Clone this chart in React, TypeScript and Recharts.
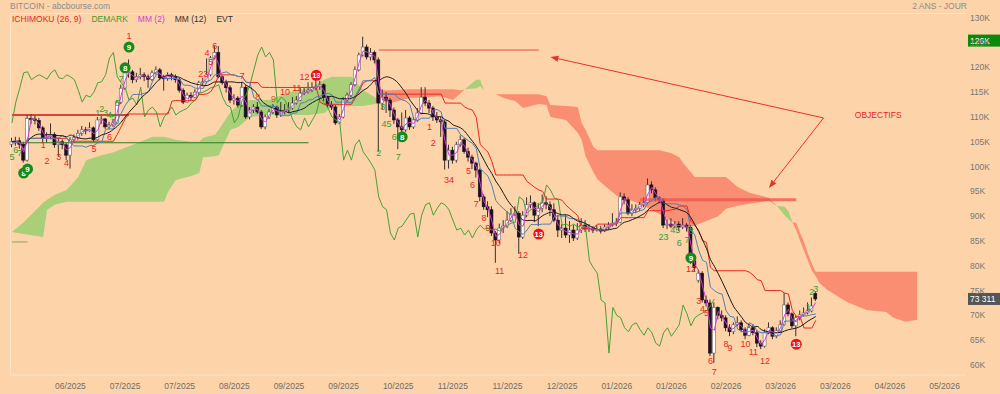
import React from "react";
import {
  ComposedChart,
  XAxis,
  YAxis,
  Bar,
  Line,
  Area,
  ReferenceLine,
  ReferenceDot,
} from "recharts";

// Bitcoin, business-day bars from early June 2025 to mid March 2026 (values in K)
const CLOSE = [
  105.0, 105.2, 104.5, 101.3, 109.7, 109.6, 109.3, 107.8, 105.8, 106.0,
  106.5, 104.4, 105.0, 104.4, 102.3, 105.4, 105.8, 106.7, 107.4, 107.2,
  107.8, 105.4, 109.4, 109.6, 108.0, 108.4, 108.8, 113.0, 115.8, 118.9,
  119.1, 117.5, 118.1, 118.5, 118.1, 117.6, 118.9, 119.5, 117.9, 117.7,
  118.5, 118.1, 117.5, 115.4, 113.0, 114.4, 114.0, 115.0, 116.9, 117.1,
  118.5, 121.9, 123.0, 118.1, 116.9, 115.9, 113.4, 113.8, 112.4, 116.0,
  110.0, 111.4, 112.0, 111.0, 108.0, 110.0, 111.0, 112.0, 110.4, 111.0,
  111.4, 111.8, 112.8, 113.4, 114.8, 115.0, 115.4, 115.9, 116.1, 116.5,
  114.0, 112.4, 112.0, 108.8, 110.0, 113.4, 114.4, 116.5, 119.5, 122.5,
  124.1, 122.1, 123.0, 121.5, 112.8, 114.0, 113.4, 111.4, 109.4, 108.0,
  107.4, 109.8, 108.0, 109.4, 110.8, 114.0, 112.8, 111.8, 110.0, 109.4,
  109.0, 101.3, 103.3, 101.3, 104.4, 105.4, 103.0, 101.9, 100.7, 99.3,
  93.9, 91.9, 91.3, 86.6, 85.2, 87.6, 88.0, 89.2, 90.4, 90.6,
  85.8, 90.2, 92.3, 92.7, 90.2, 91.6, 92.7, 92.3, 91.3, 89.2,
  87.2, 87.6, 86.2, 87.2, 85.6, 87.2, 88.2, 87.4, 87.6, 87.2,
  87.4, 87.0, 87.8, 88.2, 88.6, 88.8, 93.9, 93.3, 90.6, 91.3,
  91.6, 92.3, 92.7, 96.3, 95.3, 93.7, 93.3, 88.2, 88.4, 88.0,
  88.4, 87.8, 88.2, 87.8, 81.0, 79.6, 78.5, 73.1, 72.5, 62.4,
  71.6, 70.0, 69.5, 67.5, 66.7, 68.1, 68.5, 67.1, 66.0, 67.5,
  66.5, 64.4, 63.8, 66.5, 67.5, 65.8, 66.9, 68.1, 72.1, 70.3,
  67.9, 69.5, 70.1, 70.5, 70.9, 71.9, 73.311,
];

const HIGH = [
  105.8, 106.0, 105.9, 105.0, 110.4, 110.6, 110.3, 109.8, 108.2, 106.9,
  108.7, 106.9, 105.8, 105.5, 104.8, 105.9, 106.5, 107.4, 108.2, 108.0,
  108.9, 108.1, 110.0, 110.2, 109.8, 109.0, 109.4, 113.4, 116.5, 119.6,
  121.6, 119.5, 118.9, 119.9, 119.0, 118.6, 119.4, 120.2, 119.9, 118.5,
  119.0, 118.9, 118.6, 117.9, 115.8, 114.9, 115.0, 115.6, 117.3, 117.9,
  121.8, 122.3, 124.4, 124.3, 118.4, 117.5, 116.4, 114.6, 114.2, 116.9,
  116.4, 112.0, 112.6, 113.0, 111.4, 110.5, 111.6, 112.6, 112.3, 113.0,
  112.6, 113.0, 114.0, 114.2, 116.0, 116.0, 117.0, 117.0, 117.6, 117.3,
  116.8, 114.3, 113.2, 112.4, 110.6, 114.0, 114.9, 117.0, 120.2, 123.0,
  126.2, 124.6, 123.9, 123.4, 122.0, 115.6, 115.0, 113.8, 111.9, 109.8,
  110.9, 111.4, 110.2, 110.0, 111.8, 116.0, 116.0, 113.4, 112.2, 111.0,
  110.0, 109.4, 104.4, 104.0, 105.0, 106.3, 105.8, 103.8, 102.4, 101.0,
  99.6, 94.4, 93.0, 92.0, 87.0, 88.5, 89.2, 91.0, 91.6, 92.0,
  91.0, 91.0, 93.8, 94.2, 93.0, 92.6, 94.4, 94.0, 93.0, 92.6,
  90.2, 88.4, 90.2, 89.0, 88.2, 88.6, 89.6, 89.2, 88.4, 88.0,
  88.2, 88.0, 88.4, 88.8, 90.6, 89.6, 94.8, 94.6, 93.8, 92.4,
  92.4, 92.9, 93.8, 97.6, 97.0, 95.8, 94.0, 93.6, 89.4, 89.6,
  89.0, 89.0, 89.6, 88.6, 88.2, 81.6, 79.2, 78.9, 74.0, 73.2,
  72.6, 71.8, 71.0, 70.0, 68.2, 68.6, 69.8, 69.0, 67.6, 68.0,
  68.2, 67.0, 65.0, 67.2, 68.6, 67.8, 67.6, 69.0, 74.5, 72.6,
  70.6, 70.0, 71.0, 71.6, 72.6, 73.6, 74.8,
];

const LOW = [
  103.9, 104.2, 103.6, 100.8, 101.0, 108.6, 108.5, 107.2, 104.9, 104.8,
  105.5, 103.8, 102.0, 103.5, 101.3, 99.6, 104.8, 105.4, 106.2, 106.5,
  107.0, 105.0, 105.2, 108.6, 107.6, 107.5, 108.0, 108.5, 112.6, 115.5,
  117.9, 116.8, 117.0, 117.6, 117.2, 115.9, 117.2, 118.6, 117.4, 115.3,
  117.3, 117.4, 116.9, 114.9, 112.6, 112.9, 113.4, 113.8, 114.6, 116.4,
  116.8, 118.2, 121.6, 117.8, 116.5, 114.9, 112.8, 112.5, 111.9, 112.0,
  109.6, 109.5, 110.8, 110.6, 107.6, 107.5, 109.6, 110.6, 109.8, 110.0,
  110.5, 110.8, 111.5, 112.5, 113.2, 114.4, 114.7, 115.0, 115.4, 115.5,
  113.2, 111.9, 111.4, 108.4, 108.6, 109.7, 112.9, 114.0, 116.2, 119.2,
  122.2, 121.6, 121.4, 120.8, 103.0, 111.5, 110.8, 110.0, 108.6, 103.5,
  106.8, 107.0, 107.4, 107.6, 109.0, 110.5, 112.2, 110.8, 109.2, 108.8,
  106.0, 99.4, 99.6, 100.6, 100.8, 104.0, 102.6, 101.0, 99.5, 97.8,
  93.0, 91.3, 89.8, 86.0, 80.6, 84.5, 86.6, 87.6, 88.8, 90.0,
  82.4, 85.4, 89.8, 91.6, 88.8, 88.0, 90.8, 91.4, 90.0, 88.8,
  85.8, 85.6, 85.6, 84.6, 85.0, 85.2, 86.6, 86.8, 86.8, 86.6,
  86.9, 86.5, 86.8, 87.4, 87.9, 88.0, 88.6, 92.4, 90.2, 90.0,
  90.6, 91.0, 91.8, 92.4, 94.6, 93.0, 92.6, 87.6, 87.4, 87.6,
  87.6, 87.0, 87.4, 86.9, 80.4, 78.8, 76.6, 72.6, 71.8, 61.8,
  60.4, 69.2, 68.8, 66.8, 65.8, 66.2, 67.8, 66.6, 65.2, 65.8,
  66.0, 63.6, 63.2, 63.5, 66.2, 65.2, 65.4, 66.6, 67.9, 69.8,
  67.4, 65.8, 69.0, 69.8, 70.2, 70.6, 72.9,
];

// bars whose open is not the previous close (first bar and gaps)
const OPEN_GAPS: Record<number, number> = { 0: 104.5, 176: 77.1, 206: 74.4 };

// Ichimoku cloud (bar index, span A, span B)
const CLOUD_IDX = [
  0, 3, 8, 9, 11, 14, 17, 19, 23, 26, 31, 36, 39, 40, 42, 46, 48, 49, 52, 53,
  56, 58, 61, 66, 71, 76, 80, 82, 87, 90, 93, 94, 97, 102, 110, 113, 115, 116, 119, 120,
  121, 124, 126, 129, 131, 135, 137, 138, 142, 145, 146, 147, 149, 150, 152, 155, 161, 166, 169, 171,
  172, 175, 176, 181, 183, 186, 189, 194, 196, 198, 199, 200, 201, 202, 203, 204, 205, 206, 207, 209,
  214, 219, 224, 226, 229, 232,
];
const SPAN_A = [
  86.8, 88.8, 92.7, 93.3, 94.3, 95.3, 97.9, 101.3, 102.3, 102.9, 104.4, 106.0, 106.0, 105.8, 105.4, 105.0, 105.0, 105.8, 106.4, 107.4,
  111.0, 112.4, 113.4, 113.4, 115.0, 115.8, 117.5, 118.1, 118.1, 115.4, 114.0, 113.4, 112.8, 113.8, 114.2, 113.4, 114.8, 115.6, 117.5, 117.5,
  115.4, 114.6, 113.8, 113.2, 111.8, 112.6, 112.4, 110.0, 109.4, 106.8, 105.4, 102.1, 98.9, 97.5, 96.1, 94.1, 92.5, 90.4, 89.0, 88.2,
  88.0, 88.0, 88.4, 90.0, 91.5, 92.1, 92.5, 93.1, 92.1, 91.9, 91.0, 88.8, 87.2, 85.0, 83.0, 81.0, 79.0, 77.9, 76.5, 75.1,
  72.7, 71.1, 70.7, 69.5, 68.7, 69.1,
];
const SPAN_B = [
  86.8, 86.4, 85.8, 91.3, 92.3, 92.9, 92.9, 92.9, 92.9, 92.9, 92.9, 92.9, 92.9, 94.9, 97.3, 98.1, 98.7, 101.9, 102.1, 102.3,
  107.4, 108.0, 110.0, 110.4, 110.4, 110.4, 110.8, 112.0, 112.2, 112.2, 112.6, 115.4, 115.4, 115.6, 115.6, 115.6, 115.4, 115.6, 115.8, 116.2,
  115.4, 114.6, 114.6, 114.6, 114.6, 114.6, 114.2, 112.4, 112.2, 112.0, 108.8, 107.4, 104.0, 103.3, 103.3, 103.3, 103.3, 103.3, 102.7, 101.9,
  100.7, 97.9, 97.9, 97.9, 97.9, 95.9, 94.7, 93.7, 92.1, 90.2, 89.4, 88.8, 88.6, 86.6, 84.8, 82.4, 80.4, 78.8, 78.8, 78.8,
  78.8, 78.8, 78.8, 78.8, 78.8, 78.8,
];

const TICK_LABELS = [
  "06/2025", "07/2025", "07/2025", "08/2025", "09/2025", "09/2025", "10/2025", "11/2025", "11/2025",
  "12/2025", "01/2026", "01/2026", "02/2026", "03/2026", "03/2026", "04/2026", "05/2026",
];
const Y_TICKS = [60, 65, 70, 75, 80, 85, 90, 95, 100, 105, 110, 115, 120, 125, 130];

// DeMark counts: [bar index, level, text]
const DEMARK_GREEN: [number, number, string][] = [
  [0, 101.9, "5"], [1, 103.3, "6"], [2, 102.7, "7"],
  [22, 110.8, "1"], [23, 111.6, "2"], [24, 110.8, "3"], [25, 110.4, "4"], [26, 110.0, "5"],
  [27, 112.8, "6"], [28, 117.7, "7"],
  [94, 102.7, "2"], [95, 112.0, "3"], [96, 108.6, "45"], [98, 106.0, "6"], [99, 101.9, "7"],
  [167, 85.8, "23"], [170, 87.2, "45"], [171, 84.6, "6"], [173, 85.2, "7"], [174, 87.0, "8"],
  [204, 71.7, "1"], [205, 74.7, "2"], [206, 75.3, "3"],
];
const DEMARK_GREEN_DOTS: [number, number, string][] = [
  [3, 98.7, "8"], [4, 99.5, "9"], [29, 119.9, "8"], [30, 124.1, "9"], [100, 106.0, "8"], [174, 81.6, "9"],
];
const DEMARK_RED: [number, number, string][] = [
  [8, 104.4, "1"], [9, 101.1, "2"], [12, 101.9, "3"], [14, 100.7, "4"], [21, 103.5, "5"], [25, 106.0, "6"],
  [30, 126.3, "1"], [49, 118.7, "23"], [50, 122.9, "4"], [51, 121.1, "5"], [52, 124.3, "6"], [59, 118.3, "7"],
  [70, 115.0, "10"], [73, 115.8, "11"], [75, 118.0, "12"],
  [107, 108.0, "1"], [108, 104.8, "2"], [112, 97.3, "34"], [117, 99.1, "5"], [118, 96.3, "6"], [119, 92.5, "7"],
  [121, 89.6, "8"], [122, 87.6, "9"], [124, 84.6, "10"], [125, 79.0, "11"], [131, 82.2, "12"],
  [174, 79.4, "12"], [176, 72.9, "3"], [177, 71.3, "4"], [178, 70.5, "5"], [179, 60.8, "6"], [180, 58.6, "7"],
  [183, 64.2, "8"], [184, 63.4, "9"], [188, 64.2, "10"], [190, 62.6, "11"], [193, 60.8, "12"],
];
const DEMARK_ORANGE: [number, number, string][] = [[63, 114.0, "8"], [67, 113.6, "9"]];
const DEMARK_RED_DOTS: [number, number, string][] = [[78, 118.4, "13"], [135, 86.4, "13"], [201, 64.2, "13"]];

// drawn levels: [from bar, to bar, level]
const LEVELS_RED: [number, number, number][] = [[0, 30, 110.4], [94, 135, 123.5]];
const LEVELS_GREEN: [number, number, number][] = [[0, 76, 104.8]];
const LEVEL_TARGET: [number, number, number] = [161, 201, 93.3];
const LEVEL_OLD: [number, number, number] = [0, 4, 84.8];

// "OBJECTIFS" arrows: start and the two targets
const ARROW_FROM = { i: 208, v: 109.8 };
const ARROW_TO = [{ i: 138, v: 122.1 }, { i: 194, v: 95.7 }];
const NOTE = { i: 222, v: 110.4, text: "OBJECTIFS" };

const HIGH_TAG = { v: 125.4, text: "126K" };
const LAST_TAG = { v: 73.311, text: "73 311" };

const SLOTS = 245;

function midpoint(i: number, n: number) {
  let hi = -Infinity;
  let lo = Infinity;
  for (let k = Math.max(0, i - n + 1); k <= i; k++) {
    hi = Math.max(hi, HIGH[k]);
    lo = Math.min(lo, LOW[k]);
  }
  return (hi + lo) / 2;
}

function sma(i: number, n: number) {
  let s = 0;
  let cnt = 0;
  for (let k = Math.max(0, i - n + 1); k <= i; k++) {
    s += CLOSE[k];
    cnt++;
  }
  return s / cnt;
}

const cloudAt = new Map<number, [number, number]>(
  CLOUD_IDX.map((idx, k) => [idx, [SPAN_A[k], SPAN_B[k]]])
);

const data = Array.from({ length: SLOTS }, (_, i) => {
  const row: any = { i, bull: [null, null], bear: [null, null] };
  if (i < CLOSE.length) {
    row.o = OPEN_GAPS[i] ?? CLOSE[i - 1];
    row.c = CLOSE[i];
    row.h = HIGH[i];
    row.l = LOW[i];
    row.range = [LOW[i], HIGH[i]];
    row.mm2 = i > 0 ? (CLOSE[i] + CLOSE[i - 1]) / 2 : null;
    row.mm12 = sma(i, 12);
    row.tenkan = midpoint(i, 9);
    row.kijun = midpoint(i, 26);
  }
  if (i + 26 < CLOSE.length) row.chikou = CLOSE[i + 26];
  const s = cloudAt.get(i);
  if (s) {
    const [a, b] = s;
    row.bull = a >= b ? [b, a] : [a, a];
    row.bear = b > a ? [a, b] : [b, b];
  }
  return row;
});

const TICK_IDX = TICK_LABELS.map((_, k) => 15 + k * 14);

const FONT = "'Liberation Sans', Arial, sans-serif";

function Candle(props: any) {
  const { x, y, width, height, payload } = props;
  if (!payload || payload.o == null || !isFinite(y) || !isFinite(height)) return null;
  const { o, c, h, l } = payload;
  const k = height / (h - l);
  const yo = y + (h - o) * k;
  const yc = y + (h - c) * k;
  const up = c >= o;
  const cx = x + width / 2;
  const top = Math.min(yo, yc);
  const bh = Math.max(1, Math.abs(yc - yo));
  return (
    <g>
      <line x1={cx} x2={cx} y1={y} y2={y + height} stroke="#3a3030" strokeWidth={1} />
      <rect
        x={x}
        y={top}
        width={width}
        height={bh}
        fill={up ? "#ffffff" : "#1e0f1e"}
        stroke={up ? "#6a6060" : "#1e0f1e"}
        strokeWidth={0.6}
      />
    </g>
  );
}

function countText(color: string) {
  return (label: string) => (p: any) => (
    <text
      x={p.cx}
      y={p.cy}
      textAnchor="middle"
      dominantBaseline="central"
      fontSize={9}
      fontFamily={FONT}
      fill={color}
    >
      {label}
    </text>
  );
}

function countDot(color: string) {
  return (label: string) => (p: any) => (
    <g>
      <circle cx={p.cx} cy={p.cy} r={5.5} fill={color} />
      <text
        x={p.cx}
        y={p.cy + 0.5}
        textAnchor="middle"
        dominantBaseline="central"
        fontSize={label.length > 1 ? 7.5 : 8}
        fontWeight="bold"
        fontFamily={FONT}
        fill="#ffffff"
      >
        {label}
      </text>
    </g>
  );
}

function Arrow(props: any) {
  const { x1, y1, x2, y2 } = props;
  const ang = Math.atan2(y2 - y1, x2 - x1);
  const L = 8;
  const W = 3;
  const bx = x2 - L * Math.cos(ang);
  const by = y2 - L * Math.sin(ang);
  const px = -Math.sin(ang) * W;
  const py = Math.cos(ang) * W;
  return (
    <g>
      <line x1={x1} y1={y1} x2={bx} y2={by} stroke="#e8322a" strokeWidth={1} />
      <polygon
        points={`${x2},${y2} ${bx + px},${by + py} ${bx - px},${by - py}`}
        fill="#e8322a"
      />
    </g>
  );
}

function tag(text: string, bg: string) {
  return (props: any) => {
    const vb = props.viewBox || {};
    const right = (vb.x ?? 0) + (vb.width ?? 0);
    const cy = vb.y ?? 0;
    return (
      <g>
        <rect x={right + 2} y={cy - 6} width={34} height={12} fill={bg} />
        <text
          x={right + 4}
          y={cy}
          dominantBaseline="central"
          fontSize={8.5}
          fontFamily={FONT}
          fill="#ffffff"
        >
          {text}
        </text>
      </g>
    );
  };
}

export default function App() {
  const greenText = countText("#3c9a2c");
  const redText = countText("#e8261e");
  const orangeText = countText("#c8661a");
  const greenDot = countDot("#178a1e");
  const redDot = countDot("#e8141a");

  return (
    <div
      style={{
        position: "absolute",
        left: 0,
        top: 0,
        width: 1000,
        height: 394,
        background: "#fdd4a9",
        fontFamily: FONT,
        overflow: "hidden",
      }}
    >
      <div style={{ position: "absolute", left: 10, top: 1, fontSize: 8.5, color: "#8c8c8c" }}>
        BITCOIN - abcbourse.com
      </div>
      <div style={{ position: "absolute", right: 33, top: 1, fontSize: 8.5, color: "#8c8c8c" }}>
        2 ANS - JOUR
      </div>
      <div
        style={{
          position: "absolute",
          left: 12,
          top: 14,
          fontSize: 8.5,
          display: "flex",
          gap: 10,
          whiteSpace: "nowrap",
        }}
      >
        <span style={{ color: "#e8261e" }}>ICHIMOKU (26, 9)</span>
        <span style={{ color: "#3c9a2c" }}>DEMARK</span>
        <span style={{ color: "#d23cd2" }}>MM (2)</span>
        <span style={{ color: "#333333" }}>MM (12)</span>
        <span style={{ color: "#333333" }}>EVT</span>
      </div>
      <div
        style={{
          position: "absolute",
          left: 10,
          top: 13,
          width: 956,
          height: 362,
          borderLeft: "1px solid #fbe4c8",
          borderTop: "1px solid #fbe4c8",
          boxSizing: "border-box",
        }}
      />
      <ComposedChart
        width={1000}
        height={394}
        data={data}
        margin={{ top: 14, right: 0, left: 10, bottom: 0 }}
        style={{ position: "absolute", left: 0, top: 0 }}
      >
        <XAxis
          dataKey="i"
          type="category"
          height={19}
          ticks={TICK_IDX}
          interval={0}
          tickFormatter={(v: number) => TICK_LABELS[(v - 15) / 14] ?? ""}
          axisLine={{ stroke: "#fbe4c8" }}
          tickLine={false}
          tick={{ fontSize: 8.5, fill: "#6d6d6d", fontFamily: FONT }}
        />
        <YAxis
          orientation="right"
          width={34}
          domain={[57.98, 130.76]}
          ticks={Y_TICKS}
          allowDataOverflow
          axisLine={false}
          tickLine={false}
          tickSize={2}
          tickMargin={2}
          tick={{ fontSize: 8.5, fill: "#777777", fontFamily: FONT }}
          tickFormatter={(v: number) => `${v}K`}
        />

        <Area
          dataKey="bull"
          type="linear"
          stroke="none"
          fill="#a9cf79"
          fillOpacity={1}
          connectNulls
          activeDot={false}
          isAnimationActive={false}
        />
        <Area
          dataKey="bear"
          type="linear"
          stroke="none"
          fill="#f98e72"
          fillOpacity={1}
          connectNulls
          activeDot={false}
          isAnimationActive={false}
        />

        {LEVELS_RED.map(([a, b, v], k) => (
          <ReferenceLine
            key={`lr${k}`}
            segment={[{ x: a, y: v }, { x: b, y: v }]}
            stroke={k === 0 ? "#c8141a" : "#ec4a40"}
            strokeWidth={k === 0 ? 1.3 : 1}
          />
        ))}
        {LEVELS_GREEN.map(([a, b, v], k) => (
          <ReferenceLine
            key={`lg${k}`}
            segment={[{ x: a, y: v }, { x: b, y: v }]}
            stroke="#2d7d22"
            strokeWidth={1.2}
          />
        ))}
        <ReferenceLine
          segment={[{ x: LEVEL_OLD[0], y: LEVEL_OLD[2] }, { x: LEVEL_OLD[1], y: LEVEL_OLD[2] }]}
          stroke="#7fb060"
          strokeWidth={1}
        />
        <ReferenceLine
          segment={[{ x: LEVEL_TARGET[0], y: LEVEL_TARGET[2] }, { x: LEVEL_TARGET[1], y: LEVEL_TARGET[2] }]}
          stroke="#f0504a"
          strokeOpacity={0.75}
          strokeWidth={3}
        />

        <Line
          dataKey="chikou"
          type="linear"
          stroke="#48a034"
          strokeWidth={1}
          dot={false}
          activeDot={false}
          isAnimationActive={false}
        />

        <Bar dataKey="range" barSize={3} shape={Candle} isAnimationActive={false} />

        <Line dataKey="kijun" type="linear" stroke="#e8261e" strokeWidth={1} dot={false} activeDot={false} isAnimationActive={false} />
        <Line dataKey="tenkan" type="linear" stroke="#4f7fb8" strokeWidth={1} dot={false} activeDot={false} isAnimationActive={false} />
        <Line dataKey="mm12" type="monotone" stroke="#1a1a1a" strokeWidth={1} dot={false} activeDot={false} isAnimationActive={false} />
        <Line dataKey="mm2" type="linear" stroke="#d23cd2" strokeWidth={1} dot={false} activeDot={false} isAnimationActive={false} />

        {DEMARK_GREEN.map(([i, v, t], k) => (
          <ReferenceDot key={`dg${k}`} x={i} y={v} r={0} shape={greenText(t)} />
        ))}
        {DEMARK_RED.map(([i, v, t], k) => (
          <ReferenceDot key={`dr${k}`} x={i} y={v} r={0} shape={redText(t)} />
        ))}
        {DEMARK_ORANGE.map(([i, v, t], k) => (
          <ReferenceDot key={`do${k}`} x={i} y={v} r={0} shape={orangeText(t)} />
        ))}
        {DEMARK_GREEN_DOTS.map(([i, v, t], k) => (
          <ReferenceDot key={`dgd${k}`} x={i} y={v} r={0} shape={greenDot(t)} />
        ))}
        {DEMARK_RED_DOTS.map(([i, v, t], k) => (
          <ReferenceDot key={`drd${k}`} x={i} y={v} r={0} shape={redDot(t)} />
        ))}

        {ARROW_TO.map((p, k) => (
          <ReferenceLine
            key={`ar${k}`}
            segment={[{ x: ARROW_FROM.i, y: ARROW_FROM.v }, { x: p.i, y: p.v }]}
            stroke="#e8322a"
            shape={Arrow}
          />
        ))}
        <ReferenceDot
          x={NOTE.i}
          y={NOTE.v}
          r={0}
          shape={(p: any) => (
            <text
              x={p.cx}
              y={p.cy}
              textAnchor="middle"
              dominantBaseline="central"
              fontSize={8.5}
              fontFamily={FONT}
              fill="#e8261e"
            >
              {NOTE.text}
            </text>
          )}
        />

        <ReferenceLine y={HIGH_TAG.v} stroke="none" label={tag(HIGH_TAG.text, "#0a8a0a")} />
        <ReferenceLine y={LAST_TAG.v} stroke="none" label={tag(LAST_TAG.text, "#555555")} />
      </ComposedChart>
    </div>
  );
}
